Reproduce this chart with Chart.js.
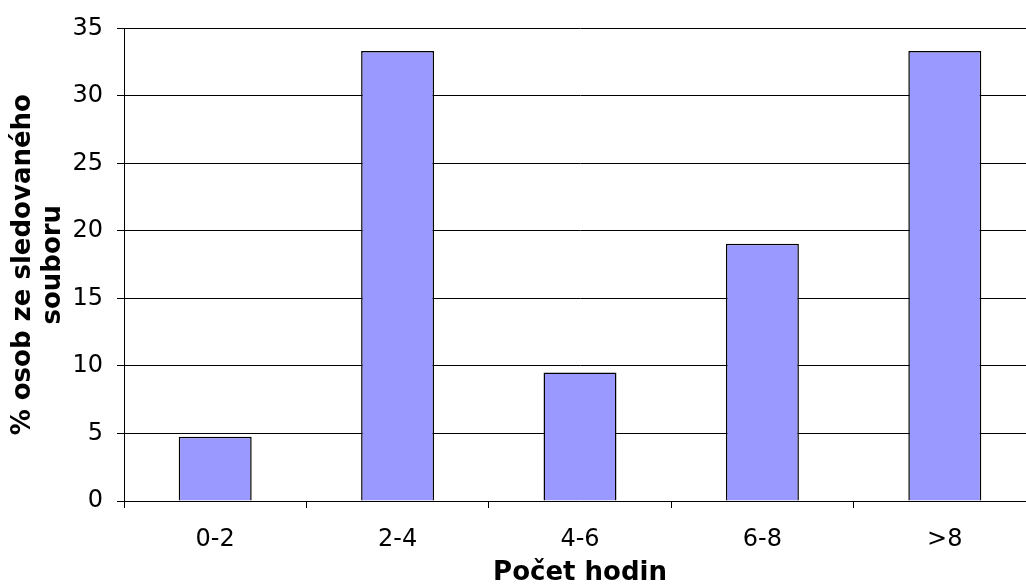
<!DOCTYPE html>
<html>
<head>
<meta charset="utf-8">
<script src="https://cdn.jsdelivr.net/npm/chart.js@4/dist/chart.umd.min.js"></script>
<style>
  html, body { margin: 0; padding: 0; background: #fff; overflow: hidden; }
  #wrap { width: 1037px; height: 586px; }
</style>
</head>
<body>
<div id="wrap"><canvas id="myChart" width="1037" height="586"></canvas></div>
<script>
const ctx = document.getElementById('myChart');

// data
var categories = ['0-2', '2-4', '4-6', '6-8', '>8'];
var percentValues = [4.76, 33.33, 9.52, 19.05, 33.33];
var yTicks = [0, 5, 10, 15, 20, 25, 30, 35];

const plugin = {
  id: 'customCanvasBackgroundColor',
  beforeDraw: (chart, args, options) => {
    const {ctx} = chart;
    ctx.save();
    ctx.globalCompositeOperation = 'destination-over';
    ctx.fillStyle = options.color || '#fff';
    ctx.fillRect(0, 0, chart.width, chart.height);
    ctx.restore();
  }
};

new Chart(ctx, {
  type: 'bar',
  data: {
    labels: categories,
    datasets: [{
      label: '% osob',
      data: percentValues,
      backgroundColor: '#9999FF',
      borderColor: '#000',
      borderWidth: 1.5,
      barPercentage: 0.4,
      categoryPercentage: 1.0
    }]
  },
  options: {
    responsive: false,
    animation: false,
    layout: { padding: { top: 27, right: 1, left: 0, bottom: 0 } },
    plugins: {
      legend: { display: false },
      tooltip: { enabled: false },
      customCanvasBackgroundColor: { color: '#FFF' }
    },
    scales: {
      x: {
        offset: true,
        grid: { offset: true, drawOnChartArea: false, color: '#000', tickLength: 7, lineWidth: 1 },
        border: { color: '#000', width: 1 },
        ticks: { color: '#000', font: { family: 'DejaVu Sans', size: 24 }, padding: 17, maxRotation: 0 },
        title: {
          display: true,
          text: 'Počet hodin',
          color: '#000',
          font: { family: 'DejaVu Sans', size: 26, weight: 'bold' },
          padding: { top: 0, bottom: -3 }
        },
        afterFit: (scale) => { scale.height = 85; }
      },
      y: {
        min: 0,
        max: 35,
        afterBuildTicks: (scale) => { scale.ticks = yTicks.map(v => ({ value: v })); },
        grid: { color: '#000', tickLength: 7, lineWidth: 1 },
        border: { color: '#000', width: 1 },
        ticks: { color: '#000', font: { family: 'DejaVu Sans', size: 24 }, padding: 14 },
        title: {
          display: true,
          text: ['% osob ze sledovaného', 'souboru'],
          color: '#000',
          font: { family: 'DejaVu Sans', size: 26, weight: 'bold', lineHeight: 1.15 },
          padding: { top: 8, bottom: 0 }
        },
        afterFit: (scale) => { scale.width = 124; }
      }
    }
  },
  plugins: [plugin]
});
</script>
</body>
</html>
